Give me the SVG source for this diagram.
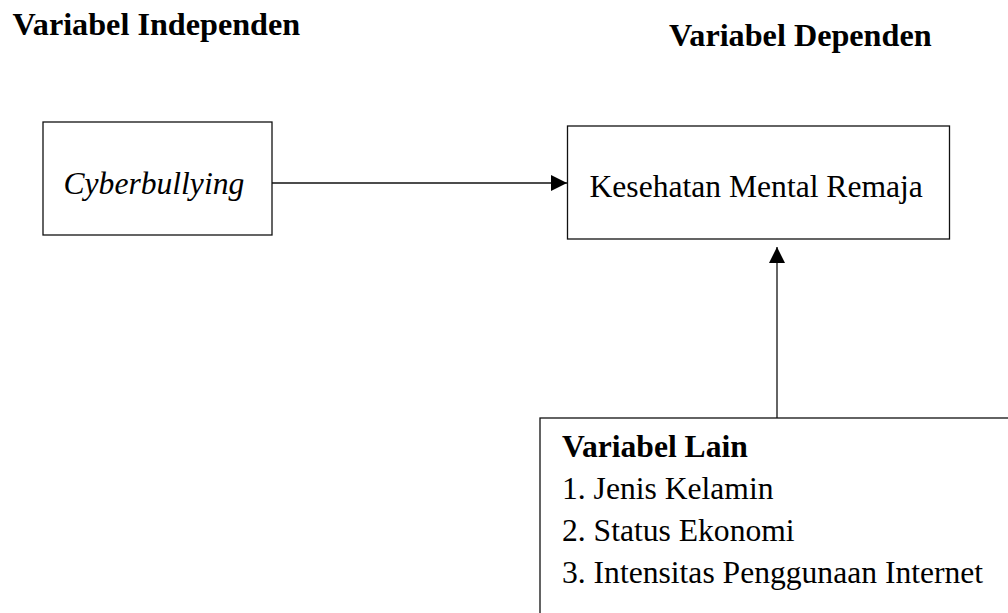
<svg xmlns="http://www.w3.org/2000/svg" width="1008" height="613" viewBox="0 0 1008 613">
<defs>
<style>
.t{font-family:"Liberation Serif","Times New Roman",serif;font-size:31.6px;fill:#000}
.h{font-size:32.2px}
.b{font-weight:bold}
.i{font-style:italic}
.box{fill:#fff;stroke:#111;stroke-width:1.3}
.ln{stroke:#111;stroke-width:1.3;fill:none}
</style>
<marker id="ah" viewBox="0 0 16 16" refX="16" refY="8" markerWidth="16" markerHeight="16" markerUnits="userSpaceOnUse" orient="auto">
<path d="M0,0 L16,8 L0,16 Z" fill="#000"/>
</marker>
</defs>
<rect width="1008" height="613" fill="#fff"/>
<g id="headers">
<text class="t h b" x="12.5" y="35">Variabel Independen</text>
<text class="t h b" x="669" y="45.5">Variabel Dependen</text>
</g>
<g id="node-cyberbullying">
<rect class="box" x="43" y="122" width="229" height="113"/>
<text class="t i" x="63.5" y="193.5">Cyberbullying</text>
</g>
<g id="node-kesehatan">
<rect class="box" x="567.5" y="126" width="382" height="113"/>
<text class="t" x="589.5" y="196.5">Kesehatan Mental Remaja</text>
</g>
<g id="node-lain">
<rect class="box" x="540" y="418" width="480" height="220"/>
<text class="t b" x="562" y="457">Variabel Lain</text>
<text class="t" x="562" y="499">1. Jenis Kelamin</text>
<text class="t" x="562" y="541">2. Status Ekonomi</text>
<text class="t" x="562" y="583">3. Intensitas Penggunaan Internet</text>
</g>
<g id="connectors">
<line class="ln" x1="272" y1="183" x2="567" y2="183" marker-end="url(#ah)"/>
<line class="ln" x1="777" y1="418" x2="777" y2="247" marker-end="url(#ah)"/>
</g>
</svg>
